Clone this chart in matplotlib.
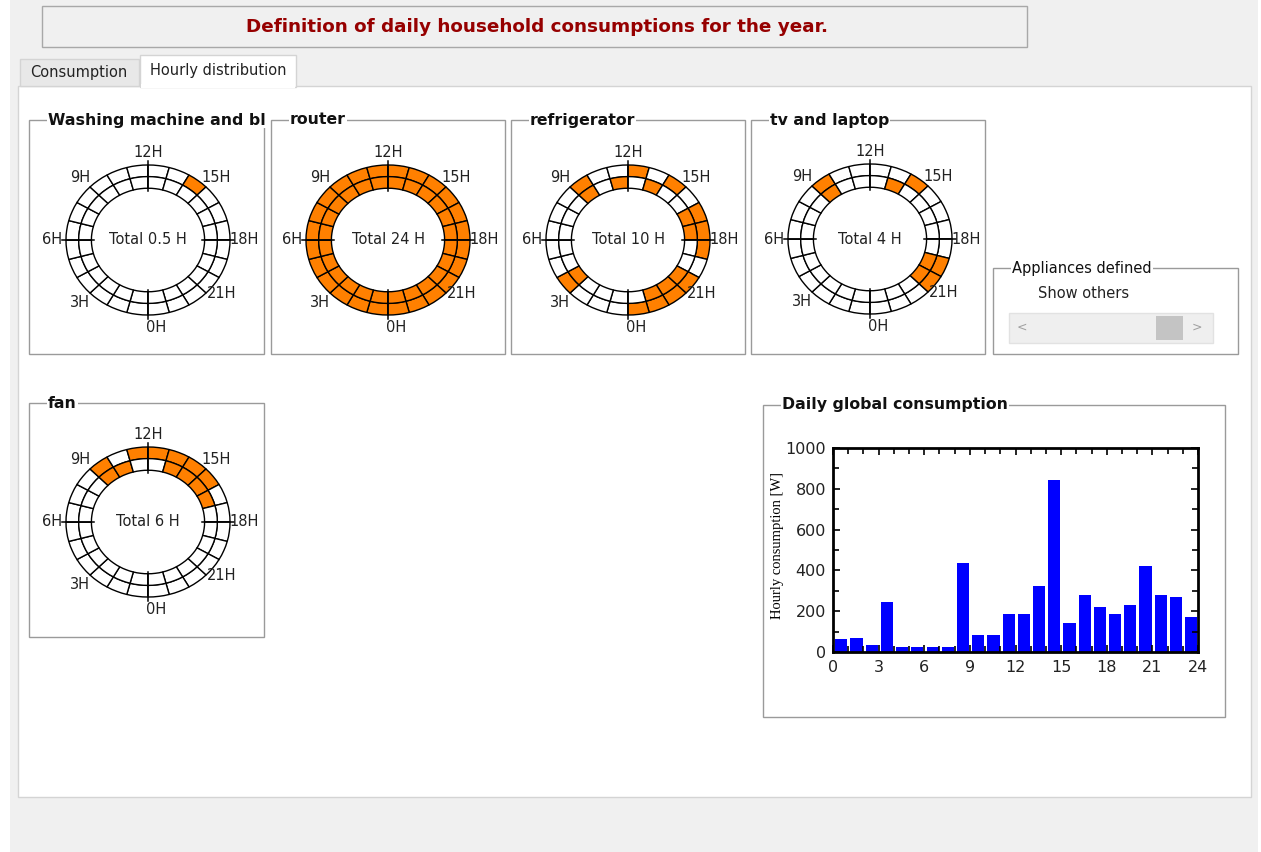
import matplotlib
matplotlib.use('Agg')
import matplotlib.pyplot as plt
from matplotlib.patches import Rectangle
import numpy as np

# ---- data ----
hours = list(range(24))
appliances = ['Washing machine and bl', 'router', 'refrigerator', 'tv and laptop', 'fan']
totals = ['Total 0.5 H', 'Total 24 H', 'Total 10 H', 'Total 4 H', 'Total 6 H']
# hours whose half-hour cell is switched on, outer ring and inner ring
outer_on = [[14], list(range(24)), [3, 9, 12, 14, 16, 17, 18, 20, 21, 22, 23],
            [9, 14, 19, 20], [9, 11, 12, 13, 14, 15]]
inner_on = [[], list(range(24)), [3, 9, 11, 13, 16, 17, 20, 21, 22],
            [9, 13, 19, 20], [9, 10, 13, 14, 15, 16]]
label_hours = [0, 3, 6, 9, 12, 15, 18, 21]
label_text = ['0H', '3H', '6H', '9H', '12H', '15H', '18H', '21H']
consumption = [62, 69, 33, 243, 25, 25, 25, 25, 438, 84, 84, 185,
               185, 323, 843, 143, 279, 221, 185, 230, 423, 279, 272, 170]

W, H = 1261, 852
ORANGE = '#ff8000'
fig = plt.figure(figsize=(W / 100, H / 100), dpi=100)
bg = fig.add_axes([0, 0, 1, 1])
bg.set_xlim(0, W)
bg.set_ylim(H, 0)
bg.axis('off')


def box(x0, y0, x1, y1, fc='none', ec='#a0a0a0', lw=1.0, z=1):
    bg.add_patch(Rectangle((x0, y0), x1 - x0, y1 - y0, facecolor=fc,
                           edgecolor=ec, linewidth=lw, zorder=z))


def px_axes(x0, y0, x1, y1, **kw):
    return fig.add_axes([x0 / W, 1 - y1 / H, (x1 - x0) / W, (y1 - y0) / H], **kw)


def group(x0, y0, x1, y1, title, bold=True):
    box(x0, y0, x1, y1, fc='white', ec='#9a9a9a', z=2)
    t = bg.text(x0 + 19, y0, title, fontsize=11.3 if bold else 10.5,
                fontweight='bold' if bold else 'normal',
                ha='left', va='center', zorder=3, color='#111111',
                bbox=dict(fc='white', ec='none', pad=0.6))
    # text longer than the box is cut at the box edge
    t.set_clip_path(Rectangle((x0, y0 - 12), x1 - x0, 30, transform=bg.transData))


# window background, title, tabs
box(10, 0, 1258, 852, fc='#f0f0f0', ec='none', z=0)
box(42, 6, 1027, 47, fc='#f0f0f0', ec='#a8a8a8')
bg.text(537, 27, 'Definition of daily household consumptions for the year.',
        fontsize=13.2, fontweight='bold', color='#960000', ha='center', va='center')
box(18, 86, 1251, 797, fc='white', ec='#d4d4d4')
box(20, 59, 139, 86, fc='#e8e8e8', ec='#d4d4d4')
bg.text(79, 72, 'Consumption', fontsize=10.5, ha='center', va='center', color='#222222')
box(140, 55, 296, 87, fc='white', ec='#d4d4d4', z=1.5)
bg.add_patch(Rectangle((141, 84), 154, 4, facecolor='white', edgecolor='none', zorder=1.6))
bg.text(218, 70, 'Hourly distribution', fontsize=10.5, ha='center', va='center', color='#222222')

# appliance rings
boxes = [(29, 120, 264, 354), (271, 120, 505, 354), (511, 120, 745, 354),
         (751, 120, 985, 354), (29, 403, 264, 637)]
centers = [(148, 240), (388, 240), (628, 240), (870, 239), (148, 522)]
step = 2 * np.pi / 24
theta = (np.array(hours) + 0.5) * step
rmax = 1.25
nudge = {'0H': (6, 0), '21H': (4, 6)}

for i, name in enumerate(appliances):
    group(*boxes[i], name)
    cx, cy = centers[i]
    ax = px_axes(cx - 82 * rmax, cy - 75 * rmax, cx + 82 * rmax, cy + 75 * rmax,
                 projection='polar')
    ax.set_aspect('auto')
    ax.set_theta_zero_location('S')
    ax.set_theta_direction(-1)
    ax.set_ylim(0, rmax)
    ax.axis('off')
    out_c = [ORANGE if h in outer_on[i] else 'white' for h in hours]
    in_c = [ORANGE if h in inner_on[i] else 'white' for h in hours]
    ax.bar(theta, 0.155, width=step, bottom=0.845, color=out_c, edgecolor='black', linewidth=1.0)
    ax.bar(theta, 0.155, width=step, bottom=0.69, color=in_c, edgecolor='black', linewidth=1.0)
    for h in [0, 6, 12, 18]:
        ax.plot([h * step, h * step], [0.66, 1.05], color='black', lw=1.1)
    x0, y0, x1, y1 = boxes[i]
    clip = Rectangle((x0, y0), x1 - x0, y1 - y0, transform=bg.transData)
    for h, lab in zip(label_hours, label_text):
        a = ax.annotate(lab, (h * step, 1.17), xytext=nudge.get(lab, (0, 0)),
                        textcoords='offset points', ha='center', va='center',
                        fontsize=10.5, color='#222222', annotation_clip=False)
        a.set_clip_path(clip)
    ax.text(0, 0, totals[i], ha='center', va='center', fontsize=10.5, color='#222222')

# appliances defined panel
group(993, 268, 1238, 354, 'Appliances defined', bold=False)
bg.text(1038, 294, 'Show others', fontsize=10.5, ha='left', va='center', color='#222222', zorder=3)
box(1009, 313, 1213, 343, fc='#efefef', ec='#e2e2e2', z=3)
box(1156, 316, 1183, 340, fc='#c4c4c4', ec='none', z=4)
bg.text(1022, 327, '<', fontsize=9, color='#a0a0a0', ha='center', va='center', zorder=4)
bg.text(1197, 327, '>', fontsize=9, color='#a0a0a0', ha='center', va='center', zorder=4)

# daily global consumption
group(763, 405, 1225, 717, 'Daily global consumption')
bx = px_axes(833, 448, 1198, 652)
bx.bar(np.array(hours) + 0.55, consumption, width=0.8, color='#0000ff')
bx.set_xlim(0, 24)
bx.set_ylim(0, 1000)
bx.set_xticks(range(0, 25, 3))
bx.set_xticks(range(0, 25), minor=True)
bx.set_yticks(range(0, 1001, 200))
bx.set_yticks(range(0, 1001, 100), minor=True)
bx.tick_params(which='both', direction='in', top=True, right=True, width=1.2,
               labelsize=11.5, labelcolor='#222222')
bx.tick_params(which='major', length=5)
bx.tick_params(which='minor', length=4)
bx.tick_params(axis='x', pad=6)
bx.tick_params(axis='y', pad=5)
for s in bx.spines.values():
    s.set_linewidth(2)
bx.set_ylabel('Hourly consumption [W]', fontfamily='Liberation Serif', fontsize=10.5)
bx.yaxis.set_label_coords(-0.135, 0.52)

fig.savefig('out.png', dpi=100)
